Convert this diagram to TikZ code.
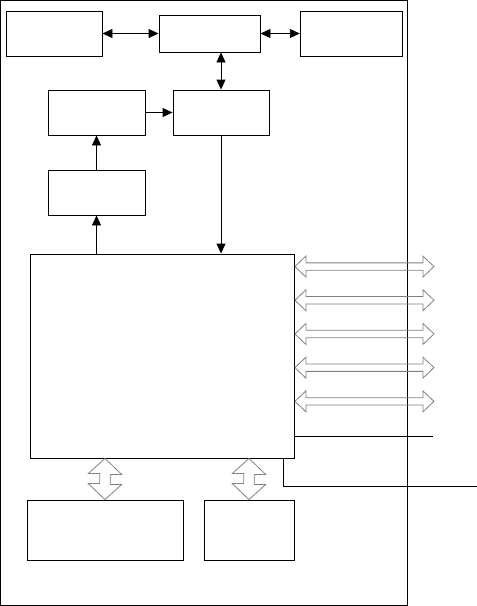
\documentclass[tikz,border=0pt]{standalone}
\usepackage{tikz}
\usepackage{xcolor}
\definecolor{LineBlack}{RGB}{0, 0, 0}
\definecolor{BusGray}{RGB}{128, 128, 128}
\usetikzlibrary{arrows.meta, calc}

\begin{document}
\begin{tikzpicture}[
    x=1pt, y=-1pt,
    block/.style={rectangle, draw=LineBlack, line width=0.9pt, inner sep=0pt},
    link/.style={-{Triangle[length=10pt, width=9pt]}, line width=0.9pt, LineBlack},
    dlink/.style={{Triangle[length=10pt, width=9pt]}-{Triangle[length=10pt, width=9pt]}, line width=0.9pt, LineBlack},
    bus/.style={draw=BusGray, line width=0.8pt, line join=miter},
    wire/.style={draw=LineBlack, line width=0.9pt}
]

\useasboundingbox (0,0) rectangle (477,606);

% Outer frame
\draw[wire] (0.5,0.5) rectangle (407.3,605.3);

% Blocks
\node[block, minimum width=96pt, minimum height=45pt] (ext1) at (54,33.5) {};
\node[block, minimum width=101pt, minimum height=37pt] (hub) at (209.5,33.5) {};
\node[block, minimum width=102.5pt, minimum height=45pt] (ext2) at (351.5,33.5) {};
\node[block, minimum width=97pt, minimum height=45pt] (pre) at (96.5,112.5) {};
\node[block, minimum width=96pt, minimum height=45pt] (ctrl) at (221,112.5) {};
\node[block, minimum width=97pt, minimum height=45pt] (sens) at (96.5,192.5) {};
\node[block, minimum width=264pt, minimum height=204pt] (core) at (162,356) {};
\node[block, minimum width=156pt, minimum height=60pt] (mem) at (105,530) {};
\node[block, minimum width=90pt, minimum height=60pt] (io) at (249,530) {};

% Signal arrows
\draw[dlink] (ext1.east) -- (hub.west);
\draw[dlink] (hub.east) -- (ext2.west);
\draw[dlink] (ctrl.north |- hub.south) -- (ctrl.north);
\draw[link] (pre.east) -- (ctrl.west);
\draw[link] (sens.north) -- (pre.south);
\draw[link] (sens.south |- core.north) -- (sens.south);
\draw[link] (ctrl.south) -- (ctrl.south |- core.north);

% Bus arrows to the right
\foreach \i in {0,...,4} {
    \draw[bus] ($(core.north east)+(0.5,13+33.7*\i)$) -- ++(11,-10.5) -- ++(0,6.8)
        -- ++(117,0) -- ++(0,-6.8) -- ++(11,10.5) -- ++(-11,10.5) -- ++(0,-6.8)
        -- ++(-117,0) -- ++(0,6.8) -- cycle;
}

% Bus arrows down
\foreach \blk in {mem, io} {
    \draw[bus] (\blk.north |- core.south) -- ++(16.7,16) -- ++(-11.4,0)
        -- ++(0,10) -- ++(11.4,0) -- (\blk.north) -- ++(-16.7,-16) -- ++(11.4,0)
        -- ++(0,-10) -- ++(-11.4,0) -- cycle;
}

% Plain lines
\coordinate (lineend) at (432.7,436.7);
\draw[wire] (core.east |- lineend) -- (lineend);
\coordinate (outend) at (477,486);
\draw[wire] ($(core.south east)+(-10.7,0)$) |- (outend);

\end{tikzpicture}
\end{document}
